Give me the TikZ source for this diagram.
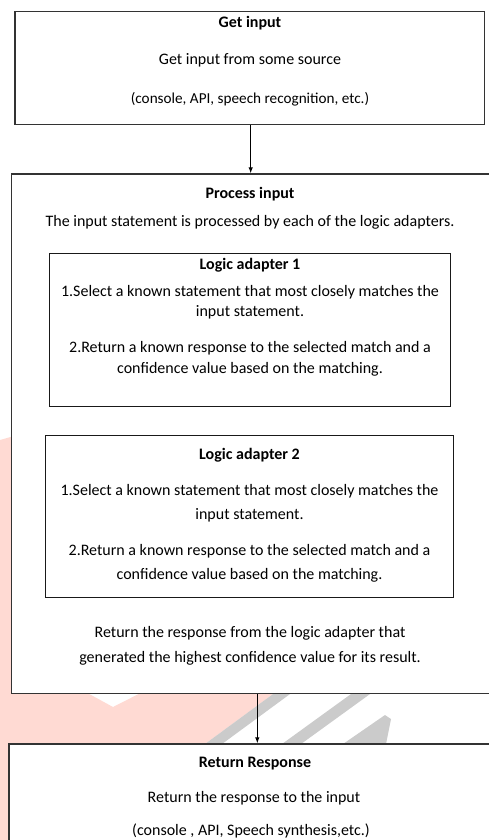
\documentclass[tikz,border=0pt]{standalone}
\usepackage{fontspec}
\setmainfont{Carlito}
\usetikzlibrary{arrows.meta}
\definecolor{wmpink}{HTML}{FFDAD3}
\definecolor{wmgrey}{HTML}{CBCBCB}
\tikzset{
  outerbox/.style={draw=black!80, line width=1.4pt, fill=white, inner sep=0pt},
  innerbox/.style={draw=black!90, line width=1.1pt, fill=white, inner sep=0pt},
  txt/.style={anchor=base, inner sep=0pt, font=\fontsize{16}{19.5}\selectfont},
  ttl/.style={txt, font=\fontsize{16}{19.5}\selectfont\bfseries},
  arr/.style={draw=black, line width=0.9pt, -{Latex[length=6pt,width=4.5pt]}},
}
\begin{document}
\begin{tikzpicture}[x=1pt,y=-1pt]
\useasboundingbox (0,0) rectangle (489,840);
% watermark
\fill[wmpink] (0,440) -- (14,436) -- (14,693.3) -- (88,693.3) -- (113,707) -- (140,693.3)
  -- (274,693.3) -- (205,744) -- (12,744) -- (12,840) -- (0,840) -- cycle;
\fill[wmgrey] (274,693.3) -- (291,693.3) -- (222,744) -- (205,744) -- cycle;
\fill[wmgrey] (352,693.3) -- (371,693.3) -- (301,744) -- (282,744) -- cycle;
\fill[wmgrey] (385,715) -- (391,719) -- (386,744) -- (343,744) -- cycle;
% boxes
\node[outerbox, minimum width=469.5pt, minimum height=112.8pt] (getin) at (249.75,68.1) {};
\node[outerbox, minimum width=488.3pt, minimum height=519.3pt] (proc) at (255.85,433.65) {};
\node[innerbox, minimum width=401.4pt, minimum height=153.4pt] (la1) at (250,330) {};
\node[innerbox, minimum width=407.6pt, minimum height=161.6pt] (la2) at (249.5,516.5) {};
\node[outerbox, minimum width=491pt, minimum height=116pt] (ret) at (254.5,802) {};
% texts: get input
\node[ttl] (t1) at (250,28) {Get input};
\node[txt] (t2) at (250,64.5) {Get input from some source};
\node[txt, font=\fontsize{15.2}{18.5}\selectfont] (t3) at (250,103) {(console, API, speech recognition, etc.)};
% process input
\node[ttl] (p1) at (250,198) {Process input};
\node[txt] (p2) at (250,226) {The input statement is processed by each of the logic adapters.};
\node[ttl] (a1) at (250,269.5) {Logic adapter 1};
\node[txt] (a2) at (250,296.5) {1.Select a known statement that most closely matches the};
\node[txt] (a3) at (250,316.5) {input statement.};
\node[txt] (a4) at (250,352.5) {2.Return a known response to the selected match and a};
\node[txt] (a5) at (250,373.5) {confidence value based on the matching.};
\node[ttl] (b1) at (249.5,459) {Logic adapter 2};
\node[txt] (b2) at (249.5,495) {1.Select a known statement that most closely matches the};
\node[txt] (b3) at (249.5,519) {input statement.};
\node[txt] (b4) at (249.5,555) {2.Return a known response to the selected match and a};
\node[txt] (b5) at (249.5,579.5) {confidence value based on the matching.};
\node[txt] (p3) at (250,637) {Return the response from the logic adapter that};
\node[txt] (p4) at (250,662) {generated the highest confidence value for its result.};
% return response
\node[ttl] (r1) at (255,767) {Return Response};
\node[txt] (r2) at (254,802) {Return the response to the input};
\node[txt] (r3) at (251,835.5) {(console , API, Speech synthesis,etc.)};
% connectors
\coordinate (c1) at (250.7,0);
\coordinate (c2) at (257.3,0);
\draw[arr] (c1 |- getin.south) -- (c1 |- proc.north);
\draw[arr] (c2 |- proc.south) -- (c2 |- ret.north);
\end{tikzpicture}
\end{document}
